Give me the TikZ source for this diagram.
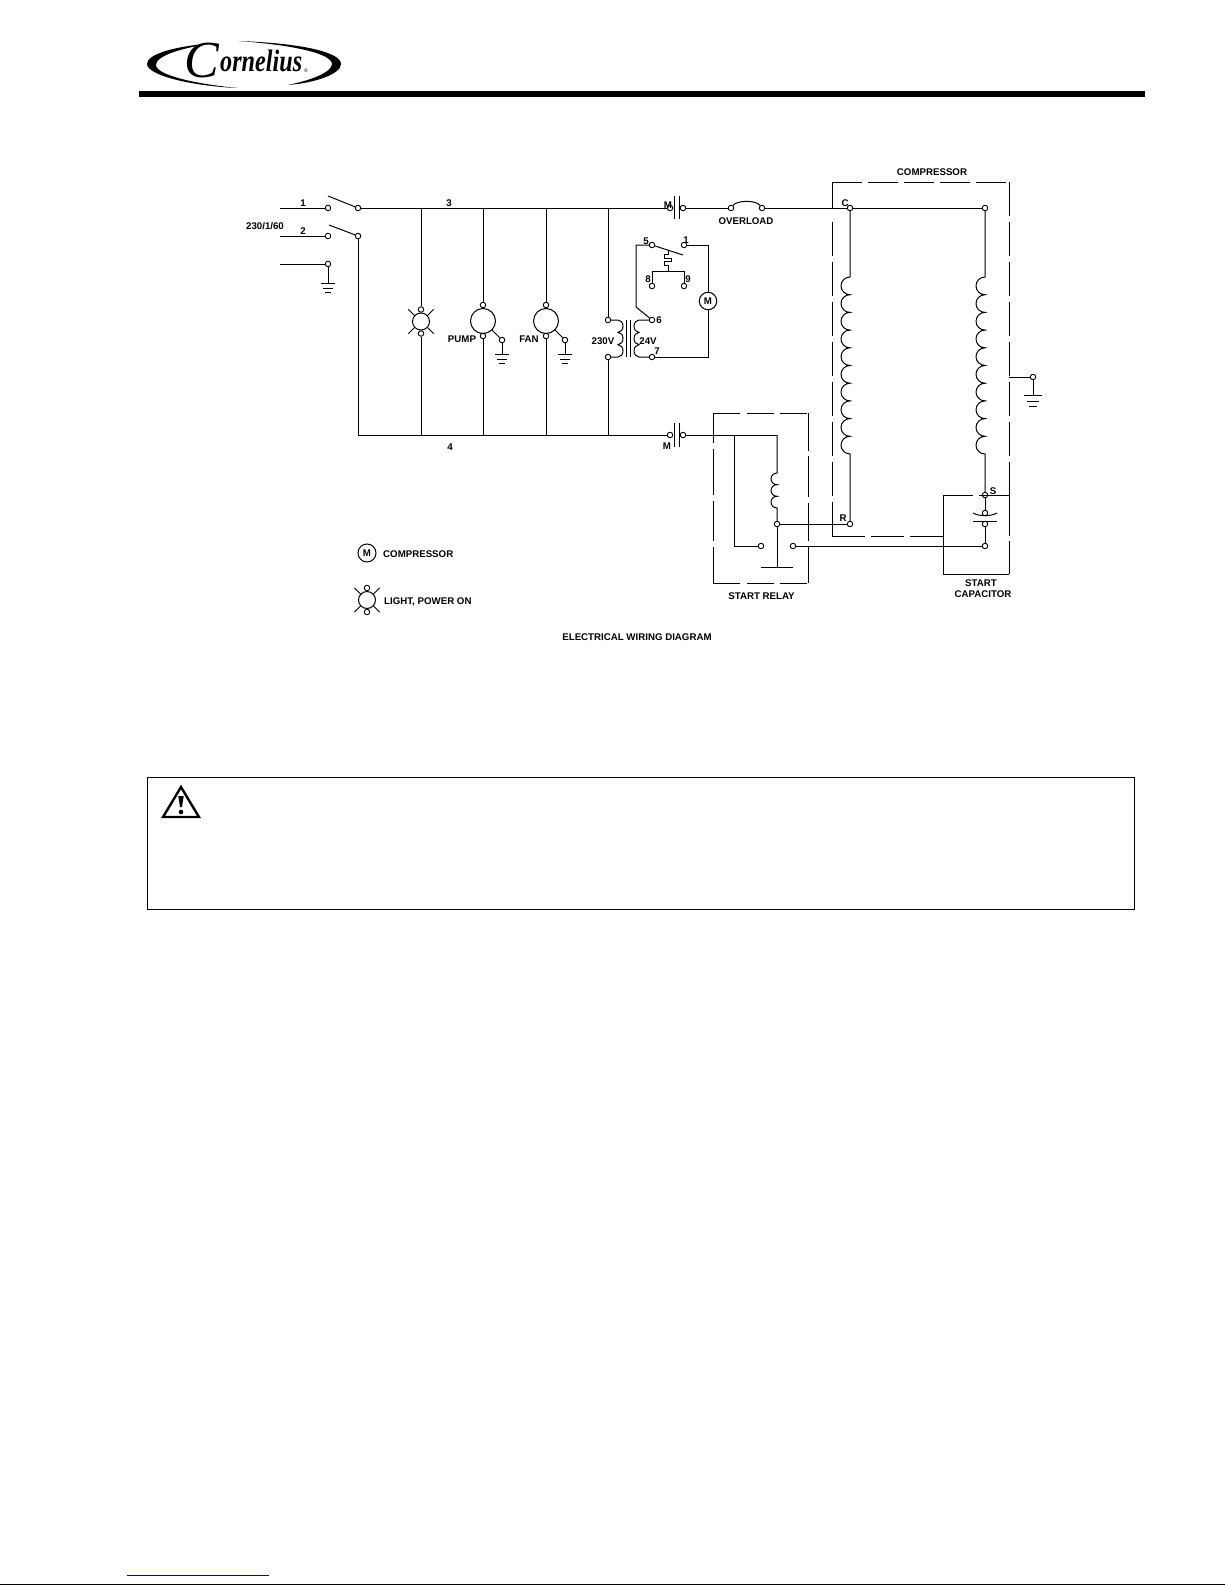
\documentclass[tikz,border=0pt]{standalone}
\usepackage{fontspec}
\setmainfont{Liberation Sans}
\newfontfamily\logofont{Liberation Serif}
\usetikzlibrary{calc}

\tikzset{
	wire/.style={line width=1pt},
	term/.style={circle,draw,fill=white,line width=0.9pt,inner sep=0pt,minimum size=5.5pt},
	lbl/.style={inner sep=0pt,font=\fontsize{9.7}{11.5}\selectfont\bfseries},
	motorc/.style={circle,draw,fill=white,line width=1pt,inner sep=0pt,minimum size=17.5pt,font=\fontsize{9.7}{10}\selectfont\bfseries},
	pumpc/.style={circle,draw,fill=white,line width=1pt,inner sep=0pt,minimum size=25pt},
	boxl/.style={line width=1pt},
	gnd/.pic={
		\draw[wire] (-7,0)--(7,0);
		\draw[wire] (-5,5)--(5,5);
		\draw[wire] (-3,9)--(3,9);
	},
	lamp/.pic={
		\node[circle,draw,line width=1pt,inner sep=0pt,minimum size=17pt] (-c) at (0,0) {};
		\node[term] (-top) at (0,-12) {};
		\node[term] (-bot) at (0,12) {};
		\draw[wire] (-12.7,-12.2)--(-6.5,-6);
		\draw[wire] (12.7,-12.2)--(6.5,-6);
		\draw[wire] (-12.7,12.2)--(-6.5,6);
		\draw[wire] (12.7,12.2)--(6.5,6);
	},
}

\begin{document}
\begin{tikzpicture}[x=1pt,y=-1pt]

	\useasboundingbox (0,0) rectangle (1225,1585);

	% header
	\fill (139,91) rectangle (1145,97);
	\fill (215,43) .. controls (175,46) and (147,54) .. (147,64) .. controls (147,75) and (190,86) .. (238,88) .. controls (195,84) and (156,75) .. (156,65) .. controls (156,56) and (180,48) .. cycle;
	\fill (238,41) .. controls (300,43) and (341,52) .. (341,64) .. controls (341,74) and (315,83) .. (288,85) .. controls (312,80) and (332,72) .. (332,64) .. controls (332,54) and (295,45) .. cycle;
	\node[inner sep=0pt,anchor=base west,font=\logofont\fontsize{52}{52}\selectfont\itshape] (logoc) at (184,77) {C};
	\node[inner sep=0pt,anchor=base west,font=\logofont\fontsize{31}{31}\selectfont\bfseries\itshape] (logot) at (220,71) {\scalebox{0.78}[1]{ornelius}};
	\node[inner sep=0pt,font=\fontsize{5}{5}\selectfont] (logor) at (306,71) {®};

	% feed and switches
	\coordinate(f1) at (280, 208);
	\coordinate(f2) at (280, 236);
	\coordinate(f3) at (280, 264);
	\node[term] (s1a) at (328, 208) {};
	\node[term] (s1b) at (358, 208) {};
	\node[term] (s2a) at (328, 236) {};
	\node[term] (s2b) at (358, 236) {};
	\node[term] (s3a) at (328, 264) {};
	\coordinate(b1) at (328, 196);
	\coordinate(b2) at (329, 225);
	\coordinate(g3) at (328, 283);
	\draw[wire] (f1)--(s1a);
	\draw[wire] (f2)--(s2a);
	\draw[wire] (f3)--(s3a);
	\draw[wire] (b1)--(s1b);
	\draw[wire] (b2)--(s2b);
	\draw[wire] (s3a)--(g3);
	\pic at (g3) {gnd};
	\node[lbl] (t1) at (303, 203) {1};
	\node[lbl] (t2) at (303, 231) {2};
	\node[lbl] (tsupply) at (265, 226) {230/1/60};
	\node[lbl] (t3) at (449, 203) {3};
	\node[lbl] (t4) at (450, 447) {4};

	% contactor
	\node[term] (m1a) at (670, 208) {};
	\node[term] (m1b) at (683, 208) {};
	\node[term] (m2a) at (670, 435) {};
	\node[term] (m2b) at (683, 435) {};
	\draw[wire] (674,196)--(674,219);
	\draw[wire] (679,196)--(679,219);
	\draw[wire] (674,423)--(674,447);
	\draw[wire] (679,423)--(679,447);
	\node[lbl] (tm1) at (668, 205) {M};
	\node[lbl] (tm2) at (667, 446) {M};

	% main lines
	\coordinate(h1) at (421, 208);
	\coordinate(h2) at (483, 208);
	\coordinate(h3) at (546, 208);
	\coordinate(h4) at (608, 208);
	\coordinate(k0) at (358, 435);
	\coordinate(k1) at (421, 435);
	\coordinate(k2) at (483, 435);
	\coordinate(k3) at (546, 435);
	\coordinate(k4) at (608, 435);
	\draw[wire] (s1b)--(m1a);
	\draw[wire] (s2b)--(k0)--(m2a);

	% light
	\pic (lampa) at (421, 321.5) {lamp};
	\draw[wire] (h1)--(lampa-top);
	\draw[wire] (lampa-bot)--(k1);

	% pump and fan
	\foreach \xm/\nm/\tx/\lx in {483/pump/PUMP/462, 546/fan/FAN/529}{
		\node[pumpc] (\nm) at (\xm, 321) {};
		\node[term] (\nm a) at (\xm, 305) {};
		\node[term] (\nm b) at (\xm, 336) {};
		\node[term] (\nm g) at (\xm+19, 340) {};
		\coordinate (\nm e) at (\xm+19, 354);
		\draw[wire] (\xm, 208)--(\nm a);
		\draw[wire] (\nm b)--(\xm, 435);
		\draw[wire] (\nm)--(\nm g);
		\draw[wire] (\nm g)--(\nm e);
		\pic at (\nm e) {gnd};
		\node[lbl] (t\nm) at (\lx, 339) {\tx};
	}

	% transformer
	\node[term] (p1) at (608, 320) {};
	\node[term] (p2) at (608, 357) {};
	\node[term] (q6) at (652, 320) {};
	\node[term] (q7) at (652, 357) {};
	\draw[wire] (h4)--(p1);
	\draw[wire] (p2)--(k4);
	\draw[wire] (p1)--(618,320) \foreach \n in {1,2,3}{ arc[start angle=90,end angle=-90,x radius=5pt,y radius=6.17pt] } --(p2);
	\draw[wire] (q6)--(639,320) \foreach \n in {1,2,3}{ arc[start angle=90,end angle=270,x radius=5pt,y radius=6.17pt] } --(q7);
	\draw[wire] (626,320)--(626,357);
	\draw[wire] (630,320)--(630,357);
	\node[lbl] (tp) at (603, 341) {230V};
	\node[lbl] (ts) at (648, 341) {24V};
	\node[lbl] (t6) at (659, 320) {6};
	\node[lbl] (t7) at (657, 351) {7};

	% control circuit
	\node[term] (c5) at (652, 245) {};
	\node[term] (c1) at (684, 245) {};
	\node[term] (c8) at (652, 286) {};
	\node[term] (c9) at (684, 286) {};
	\node[motorc] (mot) at (708, 301) {M};
	\coordinate(n1) at (636, 245);
	\coordinate(n2) at (636, 307);
	\coordinate(n3) at (708, 245);
	\coordinate(n4) at (708, 357);
	\coordinate(n5) at (668, 271);
	\coordinate(n6) at (652, 271);
	\coordinate(n7) at (684, 271);
	\draw[wire] (c5)--(n1)--(n2)--(q6);
	\draw[wire] (c1)--(n3)--(mot);
	\draw[wire] (mot)--(n4)--(q7);
	\draw[wire] (c5)--(683,255);
	\draw[wire] (c8)--(n6)--(n7)--(c9);
	\draw[wire] (668,251)--(668,254)--(664,254)--(664,258)--(671,258)--(671,261)--(664,261)--(664,265)--(668,265)--(n5);
	\node[lbl] (t5) at (646, 241) {5};
	\node[lbl] (tc1) at (686, 240) {1};
	\node[lbl] (t8) at (648, 279) {8};
	\node[lbl] (t9) at (688, 279) {9};

	% overload
	\node[term] (o1) at (731, 208) {};
	\node[term] (o2) at (762, 208) {};
	\draw[wire] (m1b)--(o1);
	\draw[wire] (o1) .. controls (737,200) and (756,200) .. (o2);
	\node[lbl] (tover) at (746, 221) {OVERLOAD};

	% compressor
	\node[term] (cc) at (850, 208) {};
	\node[term] (cr) at (985, 208) {};
	\node[term] (rr) at (850, 524) {};
	\node[term] (ss) at (985, 495) {};
	\node[term] (ca) at (985, 513) {};
	\node[term] (cb) at (985, 524) {};
	\node[term] (cd) at (985, 546) {};
	\draw[wire] (o2)--(cc);
	\draw[wire] (cc)--(cr);
	\draw[wire] (cc)--(850,277) \foreach \n in {1,...,10}{ arc[start angle=90,end angle=270,x radius=9pt,y radius=8.85pt] } --(rr);
	\draw[wire] (cr)--(985,277) \foreach \n in {1,...,10}{ arc[start angle=90,end angle=270,x radius=9pt,y radius=8.85pt] } --(ss);
	\draw[wire] (ss)--(ca);
	\draw[wire] (cb)--(cd);
	\draw[wire] (973,513) .. controls (979,516.5) and (991,516.5) .. (997,513);
	\draw[wire] (973,521)--(997,521);
	\node[lbl] (tc) at (845, 203) {C};
	\node[lbl] (tr) at (843, 518) {R};
	\node[lbl] (tsc) at (993, 491) {S};
	\node[lbl] (tcomp) at (932, 172) {COMPRESSOR};

	\draw[boxl,dash pattern=on 30pt off 6pt] (832,182)--(1009,182);
	\draw[boxl] (832,182)--(832,208);
	\draw[boxl,dash pattern=on 34pt off 6pt] (832,222)--(832,536);
	\draw[boxl,dash pattern=on 33pt off 6pt] (832,536)--(943,536);
	\draw[boxl,dash pattern=on 34pt off 6pt] (1009,182)--(1009,456);
	\draw[boxl] (1009,462)--(1009,536);
	\draw[boxl] (1009,541)--(1009,574);

	% earth of the compressor
	\coordinate(e0) at (1009, 377);
	\node[term] (e1) at (1033, 377) {};
	\coordinate(e2) at (1033, 395);
	\draw[wire] (e0)--(e1);
	\draw[wire] (e1)--(e2);
	\pic[scale=1.25] at (e2) {gnd};

	% start capacitor box
	\draw[boxl] (973,495)--(943,495)--(943,574)--(1009,574);
	\draw[boxl] (979,495)--(1009,495);
	\node[lbl] (tcap1) at (981, 583) {START};
	\node[lbl] (tcap2) at (983, 594) {CAPACITOR};

	% start relay
	\node[term] (r1) at (761, 546) {};
	\node[term] (r2) at (793, 546) {};
	\node[term] (r3) at (777, 524) {};
	\coordinate(j1) at (734, 435);
	\coordinate(j2) at (777, 435);
	\coordinate(j3) at (734, 546);
	\coordinate(j4) at (777, 567);
	\draw[wire] (m2b)--(j2);
	\draw[wire] (j1)--(j3)--(r1);
	\draw[wire] (j2)--(777,473) \foreach \n in {1,2,3}{ arc[start angle=90,end angle=270,x radius=6pt,y radius=5.83pt] } --(r3);
	\draw[wire] (r3)--(j4);
	\draw[wire] (761,567)--(793,567);
	\draw[wire] (r3)--(rr);
	\draw[wire] (r2)--(cd);
	\draw[boxl,dash pattern=on 27pt off 6.5pt] (713,413)--(808,413);
	\draw[boxl,dash pattern=on 27pt off 6.5pt] (713,583)--(808,583);
	\draw[boxl] (713,413)--(713,443);
	\draw[boxl] (713,449)--(713,495);
	\draw[boxl] (713,501)--(713,541);
	\draw[boxl] (713,547)--(713,583);
	\draw[boxl] (808,413)--(808,451);
	\draw[boxl] (808,456)--(808,497);
	\draw[boxl] (808,503)--(808,541);
	\draw[boxl] (808,547)--(808,583);
	\node[lbl] (trelay) at (761.5, 596) {START RELAY};

	% legend
	\node[motorc,minimum size=18pt] (legm) at (367, 553) {M};
	\node[lbl,anchor=west] (tlegm) at (383, 554) {COMPRESSOR};
	\pic (lampb) at (367, 600) {lamp};
	\node[lbl,anchor=west] (tlegl) at (384, 602) {LIGHT, POWER ON};
	\node[lbl] (ttitle) at (637, 637) {ELECTRICAL WIRING DIAGRAM};

	% warning box
	\node[draw,line width=1pt,inner sep=0pt,minimum width=987pt,minimum height=132pt] (warn) at (640.5, 843) {};
	\draw[line width=2.4pt,line join=miter] (181,787)--(163,817)--(199,817)--cycle;
	\fill (178.3,796)--(183.7,796)--(182,807)--(180,807)--cycle;
	\fill (181,812) circle (2.3);

	% foot of the page
	\draw[color={rgb,255:red,0;green,0;blue,205},line width=1pt] (127,1575)--(269,1575);
	\draw[line width=1pt] (0,1584.3)--(1225,1584.3);

\end{tikzpicture}
\end{document}
